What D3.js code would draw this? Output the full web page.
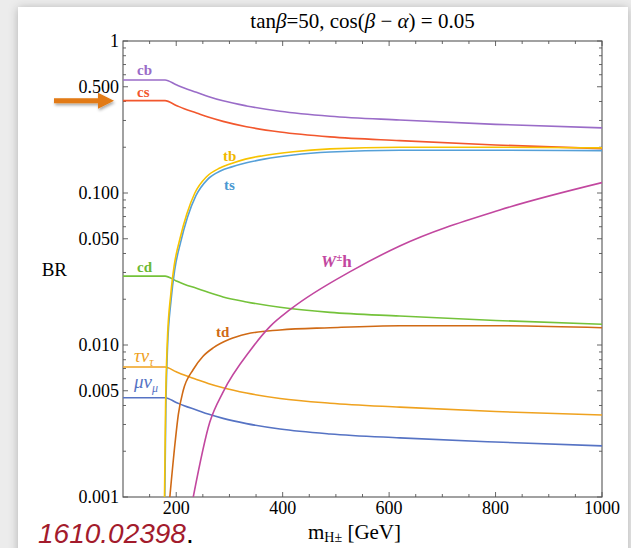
<!DOCTYPE html>
<html><head><meta charset="utf-8">
<script src="https://cdn.jsdelivr.net/npm/d3@7/dist/d3.min.js"></script>
<style>body{margin:0;background:#eeeeee;}svg{display:block;}</style>
</head><body>
<script>
// ---------- data ----------
const lightMass = [100, 179, 200, 215, 238, 260, 288, 332, 395, 489, 620, 800, 1000];
const cb   = [0.554, 0.554, 0.515, 0.490, 0.460, 0.432, 0.404, 0.374, 0.345, 0.320, 0.302, 0.283, 0.268];
const cs   = [0.405, 0.405, 0.377, 0.358, 0.336, 0.316, 0.296, 0.273, 0.252, 0.234, 0.221, 0.207, 0.196];
const cd   = [0.0284, 0.0284, 0.0264, 0.0251, 0.0236, 0.0222, 0.0207, 0.0192, 0.0177, 0.0164, 0.0155, 0.0145, 0.0137];
const tauNu= [0.00716, 0.00716, 0.00666, 0.00634, 0.00594, 0.00558, 0.00523, 0.00483, 0.00445, 0.00414, 0.0039, 0.00365, 0.00346];
const muNu = [0.0045, 0.0045, 0.00419, 0.00398, 0.00374, 0.00351, 0.00329, 0.00304, 0.0028, 0.0026, 0.00245, 0.0023, 0.00217];

const tbMass = [178, 180, 183, 190, 196, 207, 220, 235, 257, 282, 301, 330, 363, 420, 489, 620, 800, 1000];
const tb     = [0.001, 0.004, 0.01, 0.022, 0.033, 0.05, 0.073, 0.1, 0.128, 0.146, 0.155, 0.167, 0.176, 0.187, 0.195, 0.2, 0.2, 0.198];
const tsMass = [178.5, 180.5, 183.5, 190.5, 197, 208, 221, 237, 259, 284, 303, 332, 365, 420, 489, 620, 800, 1000];
const ts     = [0.001, 0.0037, 0.0093, 0.02, 0.031, 0.047, 0.069, 0.096, 0.123, 0.14, 0.148, 0.158, 0.167, 0.178, 0.186, 0.191, 0.191, 0.19];
const tdMass = [188, 198, 204, 213, 232, 250, 270, 300, 332, 395, 489, 620, 800, 1000];
const td     = [0.001, 0.0023, 0.0035, 0.005, 0.0069, 0.0084, 0.0096, 0.0109, 0.0118, 0.01256, 0.013, 0.0134, 0.0134, 0.013];
const whMass = [232, 263, 288, 340, 376, 415, 532, 620, 808, 1000];
const wh     = [0.001, 0.0031, 0.0049, 0.0093, 0.0132, 0.0172, 0.0311, 0.0448, 0.0773, 0.117];

const xMajor = [200, 400, 600, 800, 1000];
const xMinor = [150, 250, 300, 350, 450, 500, 550, 650, 700, 750, 850, 900, 950];
const yMajor = [1, 0.5, 0.1, 0.05, 0.01, 0.005, 0.001];
const yMajorLabels = ["1", "0.500", "0.100", "0.050", "0.010", "0.005", "0.001"];
const yMinor = [0.002,0.003,0.004,0.006,0.007,0.008,0.009,0.02,0.03,0.04,0.06,0.07,0.08,0.09,0.2,0.3,0.4,0.6,0.7,0.8,0.9];

// ---------- layout ----------
const W = 631, H = 548;
const L = 123, R = 602, T = 41, B = 497;
const x = d3.scaleLinear().domain([100, 1000]).range([L, R]);
const y = d3.scaleLog().domain([0.001, 1]).range([B, T]);
const serif = "'Liberation Serif', 'DejaVu Serif', serif";

const svg = d3.select("body").append("svg").attr("width", W).attr("height", H);
const defs = svg.append("defs");
const f = defs.append("filter").attr("id", "sh").attr("x", "-20%").attr("y", "-20%").attr("width", "140%").attr("height", "140%");
f.append("feDropShadow").attr("dx", 0).attr("dy", 1).attr("stdDeviation", 5).attr("flood-color", "#000").attr("flood-opacity", 0.25);
const fa = defs.append("filter").attr("id", "ash").attr("x", "-30%").attr("y", "-50%").attr("width", "160%").attr("height", "200%");
fa.append("feDropShadow").attr("dx", 1).attr("dy", 2).attr("stdDeviation", 1.5).attr("flood-color", "#000").attr("flood-opacity", 0.35);
defs.append("clipPath").attr("id", "clip").append("rect").attr("x", L).attr("y", T).attr("width", R - L).attr("height", B - T);

svg.append("rect").attr("width", W).attr("height", H).attr("fill", "#ececec");
svg.append("rect").attr("x", 18).attr("y", 7).attr("width", 610).attr("height", H + 20).attr("fill", "#fff").attr("filter", "url(#sh)");

// frame & ticks
const g = svg.append("g");
const tickCol = "#666";
function hTicks(vals, len) {
  vals.forEach(v => {
    const px = x(v);
    g.append("line").attr("x1", px).attr("x2", px).attr("y1", B).attr("y2", B - len).attr("stroke", tickCol);
    g.append("line").attr("x1", px).attr("x2", px).attr("y1", T).attr("y2", T + len).attr("stroke", tickCol);
  });
}
function vTicks(vals, len) {
  vals.forEach(v => {
    const py = y(v);
    g.append("line").attr("y1", py).attr("y2", py).attr("x1", L).attr("x2", L + len).attr("stroke", tickCol);
    g.append("line").attr("y1", py).attr("y2", py).attr("x1", R).attr("x2", R - len).attr("stroke", tickCol);
  });
}
hTicks(xMajor, 5); hTicks(xMinor, 3);
vTicks(yMajor, 5); vTicks(yMinor, 3);
g.append("rect").attr("x", L).attr("y", T).attr("width", R - L).attr("height", B - T)
  .attr("fill", "none").attr("stroke", "#555").attr("stroke-width", 1.1);

xMajor.forEach(v => {
  g.append("text").attr("x", x(v)).attr("y", B + 17).attr("text-anchor", "middle")
    .attr("font-family", serif).attr("font-size", 18).text(v);
});
yMajor.forEach((v, i) => {
  g.append("text").attr("x", L - 4).attr("y", y(v) + 6).attr("text-anchor", "end")
    .attr("font-family", serif).attr("font-size", 18).text(yMajorLabels[i]);
});

// curves
const line = d3.line().x(d => x(d[0])).y(d => y(d[1])).curve(d3.curveMonotoneX);
const plot = svg.append("g").attr("clip-path", "url(#clip)");
const series = [
  {m: lightMass, v: muNu, c: "#5673c4"},
  {m: lightMass, v: tauNu, c: "#efa21f"},
  {m: lightMass, v: cd, c: "#74c23a"},
  {m: lightMass, v: cs, c: "#f2572d"},
  {m: lightMass, v: cb, c: "#9a6cc8"},
  {m: tdMass, v: td, c: "#d06a15"},
  {m: whMass, v: wh, c: "#c2479f"},
  {m: tsMass, v: ts, c: "#55a0d8"},
  {m: tbMass, v: tb, c: "#f7c300"}
];
series.forEach(s => {
  plot.append("path").datum(s.m.map((m, i) => [m, s.v[i]]))
    .attr("d", line).attr("fill", "none").attr("stroke", s.c).attr("stroke-width", 1.6);
});

// curve labels
function lab(px, py, col, parts, size) {
  const t = svg.append("text").attr("x", px).attr("y", py).attr("font-family", serif)
    .attr("font-size", size || 14).attr("fill", col);
  parts.forEach(p => {
    const ts = t.append("tspan").text(p.t);
    if (p.b !== false) ts.attr("font-weight", "bold");
    if (p.i) ts.attr("font-style", "italic");
    if (p.dy) ts.attr("dy", p.dy);
    if (p.s) ts.attr("font-size", p.s);
  });
}
lab(137, 75, "#9a6cc8", [{t: "cb"}], 15);
lab(137, 97, "#f2572d", [{t: "cs"}], 15);
lab(223, 161, "#f0b800", [{t: "tb"}], 15);
lab(224, 190, "#4a98d2", [{t: "ts"}], 15);
lab(137, 272, "#6cb934", [{t: "cd"}], 15);
lab(216, 337, "#d06a15", [{t: "td"}], 15);
lab(321, 267, "#c2479f", [{t: "W", i: true}, {t: "±", dy: -6, s: 11}, {t: "h", dy: 6}], 17);
lab(134, 362, "#efa21f", [{t: "τν", i: true, b: false}, {t: "τ", i: true, b: false, dy: 4, s: 12}], 19);
lab(134, 388, "#5673c4", [{t: "μν", i: true, b: false}, {t: "μ", i: true, b: false, dy: 4, s: 12}], 19);

// title
const title = svg.append("text").attr("x", (L + R) / 2).attr("y", 28).attr("text-anchor", "middle")
  .attr("font-family", serif).attr("font-size", 21);
title.append("tspan").text("tan");
title.append("tspan").attr("font-style", "italic").text("β");
title.append("tspan").text("=50, cos(");
title.append("tspan").attr("font-style", "italic").text("β");
title.append("tspan").text(" − ");
title.append("tspan").attr("font-style", "italic").text("α");
title.append("tspan").text(") = 0.05");

// axis labels
svg.append("text").attr("x", 67).attr("y", 276).attr("text-anchor", "end")
  .attr("font-family", serif).attr("font-size", 19).text("BR");
const xl = svg.append("text").attr("x", 308).attr("y", 539).attr("font-family", serif).attr("font-size", 21);
xl.append("tspan").text("m");
xl.append("tspan").attr("font-size", 14).attr("dy", 3).text("H±");
xl.append("tspan").attr("dy", -3).text(" [GeV]");

// arrow annotation pointing at the cs level
const ay = y(cs[0]);
svg.append("path")
  .attr("d", `M54,${ay - 2.5} L98,${ay - 2.5} L98,${ay - 8} L114,${ay} L98,${ay + 8} L98,${ay + 2.5} L54,${ay + 2.5} Z`)
  .attr("fill", "#e27a12").attr("filter", "url(#ash)");

// reference
const ref = svg.append("text").attr("x", 38).attr("y", 543).attr("font-family", "'Liberation Sans', Arial, sans-serif")
  .attr("font-size", 28).attr("font-style", "italic");
ref.append("tspan").attr("fill", "#a31b2c").text("1610.02398");
ref.append("tspan").attr("fill", "#000").attr("font-style", "normal").text(".");
</script>
</body></html>
